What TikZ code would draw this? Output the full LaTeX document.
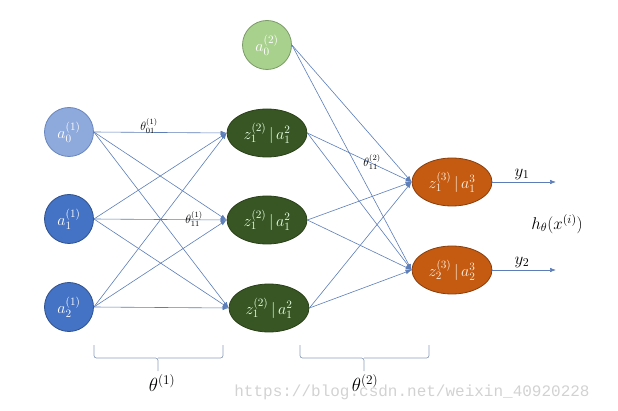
\RequirePackage{fix-cm}
\documentclass[tikz,border=0pt]{standalone}
\usepackage{fontspec}
\newfontfamily\wmfont{Liberation Mono}
\usetikzlibrary{arrows.meta,shapes.geometric}
\definecolor{edgeblue}{HTML}{5B7DB8}
\definecolor{lblue}{HTML}{8EA9DB}
\definecolor{lbluedk}{HTML}{6A86BE}
\definecolor{mblue}{HTML}{4472C4}
\definecolor{mbluedk}{HTML}{2F528F}
\definecolor{lgreen}{HTML}{A9D18E}
\definecolor{lgreendk}{HTML}{7A9A66}
\definecolor{dgreen}{HTML}{375623}
\definecolor{dgreendk}{HTML}{2A4019}
\definecolor{orng}{HTML}{C55A11}
\definecolor{orngdk}{HTML}{8A3E0C}
\definecolor{bracec}{HTML}{8FA0BC}
\definecolor{wmgray}{HTML}{D2D2D2}
\begin{document}
\begin{tikzpicture}[x=1pt,y=-1pt,
  neuron/.style={circle, minimum size=49pt, inner sep=0pt, line width=0.8pt, font=\fontsize{16}{18}\selectfont},
  hid/.style={ellipse, minimum width=80pt, minimum height=48pt, inner sep=0pt, line width=0.8pt, font=\fontsize{16}{18}\selectfont},
  conn/.style={draw=edgeblue, line width=0.6pt, -{Latex[length=6pt,width=4.5pt]}},
  wlabel/.style={font=\fontsize{12}{13}\selectfont, inner sep=0pt},
  bigl/.style={font=\fontsize{17}{19}\selectfont, inner sep=0pt},
  thl/.style={font=\fontsize{19}{21}\selectfont, inner sep=0pt},
  bracel/.style={draw=bracec, line width=0.7pt, rounded corners=2.5pt},
]
\useasboundingbox (0,0) rectangle (618,411);

% layer 1
\node[neuron, fill=lblue, draw=lbluedk, text=white] (a0) at (69,132) {$a_0^{(1)}$};
\node[neuron, fill=mblue, draw=mbluedk, text=white] (a1) at (69,219) {$a_1^{(1)}$};
\node[neuron, fill=mblue, draw=mbluedk, text=white] (a2) at (69,307) {$a_2^{(1)}$};

% layer 2
\node[neuron, fill=lgreen, draw=lgreendk, text=white] (b0) at (267,45) {$a_0^{(2)}$};
\node[hid, fill=dgreen, draw=dgreendk, text={white!90!green}] (z1) at (267,133) {$z_1^{(2)}\,|\,a_1^2$};
\node[hid, fill=dgreen, draw=dgreendk, text={white!90!green}] (z2) at (267,220) {$z_1^{(2)}\,|\,a_1^2$};
\node[hid, fill=dgreen, draw=dgreendk, text={white!90!green}] (z3) at (269,308) {$z_1^{(2)}\,|\,a_1^2$};

% layer 3
\node[hid, fill=orng, draw=orngdk, text={white!88!orange}] (o1) at (452,182) {$z_1^{(3)}\,|\,a_1^3$};
\node[hid, fill=orng, draw=orngdk, text={white!88!orange}] (o2) at (452,270) {$z_2^{(3)}\,|\,a_2^3$};

% connections layer 1 -> 2
\foreach \s in {a0,a1,a2}{
  \foreach \t in {z1,z2,z3}{
    \draw[conn] (\s.east) -- (\t.west);
  }
}
% connections layer 2 -> 3
\foreach \s in {z1,z2,z3}{
  \foreach \t in {o1,o2}{
    \draw[conn] (\s.east) -- (\t.west);
  }
}
\draw[conn] (b0.east) -- (o1.west);
\draw[conn] (b0.east) -- (o2.west);

% outputs
\coordinate (y1e) at (556,182);
\coordinate (y2e) at (556,270);
\draw[conn] (o1.east) -- (y1e);
\draw[conn] (o2.east) -- (y2e);
\node[bigl] (y1l) at (522,174) {$y_1$};
\node[bigl] (y2l) at (522,262) {$y_2$};
\node[bigl] (hl) at (557,224) {$h_\theta(x^{(i)})$};

% weight labels
\node[wlabel] (t01) at (149,126) {$\theta_{01}^{(1)}$};
\node[wlabel] (t11) at (194,219) {$\theta_{11}^{(1)}$};
\node[wlabel] (t211) at (372,162) {$\theta_{11}^{(2)}$};

% braces
\coordinate (b1l) at (94,345);
\coordinate (b1r) at (223,345);
\coordinate (b1m) at (158,358);
\coordinate (b1t) at (158,371);
\draw[bracel] (b1l) -- (94,358) -- (b1m) -- (b1t);
\draw[bracel] (b1r) -- (223,358) -- (b1m);
\coordinate (b2l) at (300,345);
\coordinate (b2r) at (429,345);
\coordinate (b2m) at (364,358);
\coordinate (b2t) at (364,371);
\draw[bracel] (b2l) -- (300,358) -- (b2m) -- (b2t);
\draw[bracel] (b2r) -- (429,358) -- (b2m);
\node[thl] (th1) at (162,383) {$\theta^{(1)}$};

% watermark
\node[font=\wmfont\fontsize{16}{18}\selectfont, text=wmgray, inner sep=0pt] (wm) at (412,392) {https://blog.csdn.net/weixin\_40920228};
\node[thl] (th2) at (365,383) {$\theta^{(2)}$};
\end{tikzpicture}
\end{document}
